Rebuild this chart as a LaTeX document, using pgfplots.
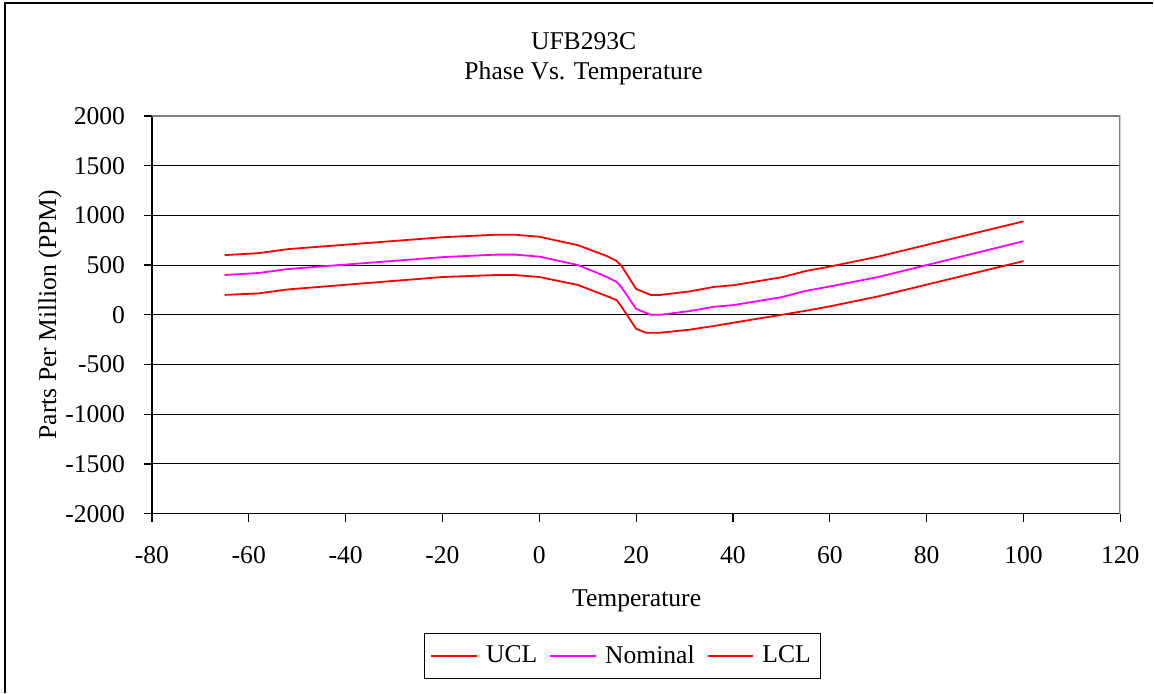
\documentclass[border=0pt]{standalone}
\usepackage{pgfplots}
\pgfplotsset{compat=1.18}
\usepackage{fontspec}
\setmainfont{Liberation Serif}

\definecolor{ucl}{RGB}{255,0,0}
\definecolor{nom}{RGB}{255,0,255}
\definecolor{frame}{RGB}{128,128,128}

\begin{document}
\fontsize{12.8}{15}\selectfont
\begin{tikzpicture}
  % page size = chart area (1 px = 0.5pt)
  \path (0,0) rectangle (577pt,346.5pt);
  % chart area border (only left and top visible)
  \draw[line width=0.7pt] (2.5pt,0) -- (2.5pt,345pt) -- (577pt,345pt);

  \node[anchor=base] at (292pt,321.8pt) {UFB293C};
  \node[anchor=base] at (292pt,306.5pt) {Phase Vs. Temperature};
  \node[rotate=90] at (25pt,189pt) {Parts Per Million (PPM)};
  \node[anchor=base] at (318.5pt,43pt) {Temperature};

  \begin{axis}[
      at={(76pt,89.5pt)}, anchor=south west,
      scale only axis,
      width=484.5pt, height=199pt,
      xmin=-80, xmax=120,
      ymin=-2000, ymax=2000,
      xtick={-80,-60,...,120},
      ytick={-2000,-1500,...,2000},
      axis x line*=bottom,
      axis y line*=left,
      axis line style={line width=0.65pt, black, -},
      tick align=outside,
      major tick length=4pt,
      tick style={line width=0.6pt, black},
      ymajorgrids,
      major grid style={line width=0.5pt, black},
      /pgf/number format/assume math mode=true,
      /pgf/number format/1000 sep={},
      scaled y ticks=false,
      xticklabel style={yshift=-8pt},
      yticklabel style={xshift=-5pt},
      legend columns=3,
      legend style={at={(0.486,-0.358)}, anchor=center,
        draw=black, line width=0.5pt, inner xsep=3pt, inner ysep=4pt,
        /tikz/every odd column/.append style={column sep=2pt},
        /tikz/every even column/.append style={column sep=4pt}},
      legend image code/.code={\draw[#1] (0pt,0pt) -- (23pt,0pt);},
    ]
    \addplot[ucl, line width=0.9pt] coordinates {
      (-65,600) (-58,620) (-52,660) (-20,780) (-9,805) (-5,805) (0,785)
      (8,700) (14,590) (16,540) (17,490) (20,260) (23,200) (25,200)
      (31,235) (36,280) (40,297) (50,377) (55,440) (60,485) (70,585) (100,940)
    };
    \addlegendentry{UCL}
    \addplot[nom, line width=0.9pt] coordinates {
      (-65,400) (-58,420) (-52,460) (-20,580) (-9,605) (-5,605) (0,585)
      (8,500) (14,380) (16,330) (17,275) (20,60) (23,0) (25,0)
      (31,37) (36,80) (40,97) (50,177) (55,240) (60,285) (70,380) (100,740)
    };
    \addlegendentry{Nominal}
    \addplot[ucl, line width=0.9pt] coordinates {
      (-65,200) (-58,215) (-52,255) (-20,380) (-9,400) (-5,400) (0,380)
      (8,300) (14,187) (16,147) (17,80) (20,-140) (22,-180) (25,-180)
      (31,-150) (36,-113) (40,-80) (50,0) (55,40) (60,85) (70,185) (100,540)
    };
    \addlegendentry{LCL}
    % plot area border (top and right, grey)
    \draw[frame, line width=1pt] (rel axis cs:0,1) -- (rel axis cs:1,1) -- (rel axis cs:1,0);
  \end{axis}
\end{tikzpicture}
\end{document}
